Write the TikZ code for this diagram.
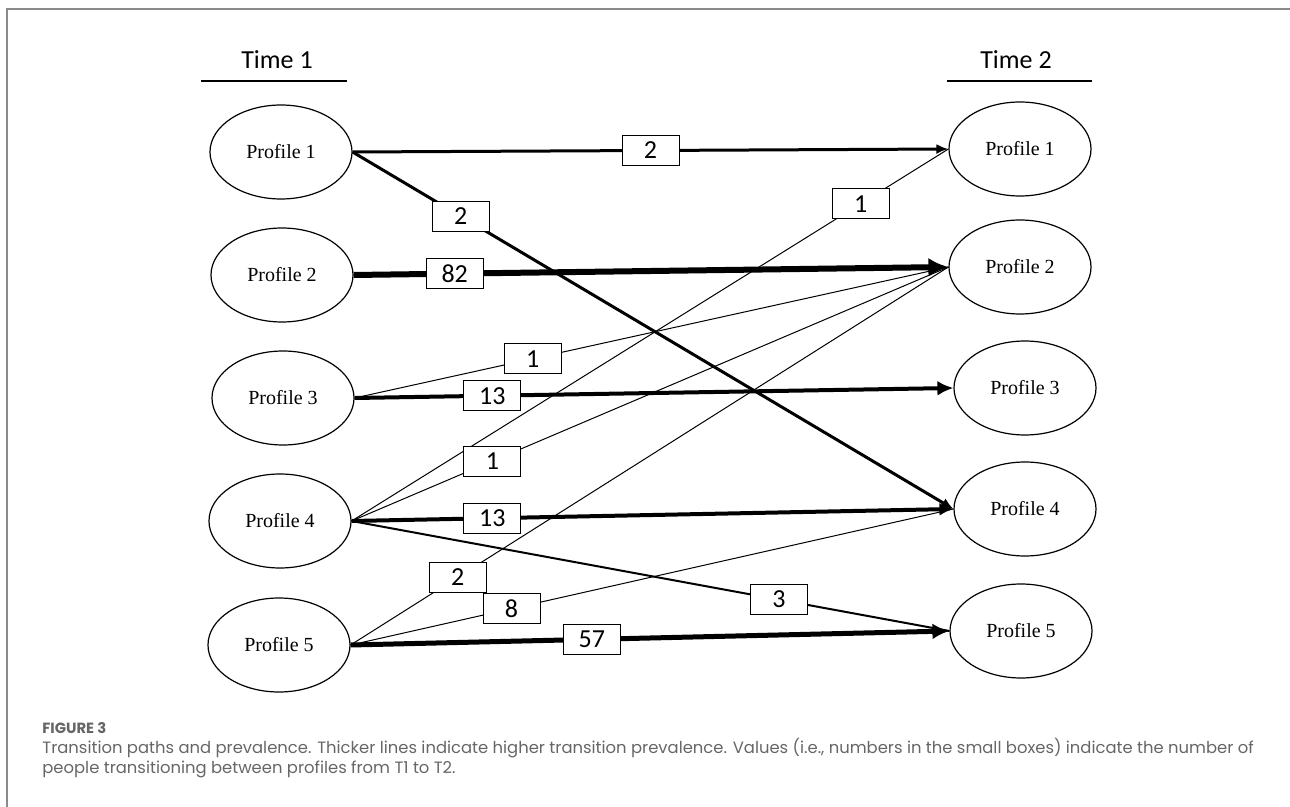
\documentclass[tikz,border=0pt]{standalone}
\usepackage{fontspec}
\setmainfont{Liberation Serif}
\newfontfamily\calfont{Carlito}
\newfontfamily\capfont{Poppins}
\usepackage{tikz}
\usetikzlibrary{arrows.meta,shapes.geometric}

\definecolor{framegray}{HTML}{8A8A8A}
\definecolor{capgray}{HTML}{666666}

\begin{document}
\begin{tikzpicture}[
	x=0.5pt, y=-0.5pt,
	profile/.style={
		ellipse, draw=black, line width=0.6pt,
		minimum width=71pt, minimum height=47pt,
		inner sep=0pt, font=\fontsize{10}{12}\selectfont
	},
	countbox/.style={
		rectangle, draw=black, fill=white, line width=0.5pt,
		minimum width=28.5pt, minimum height=15pt, inner sep=0pt,
		font=\calfont\fontsize{13}{13}\selectfont
	},
	timelbl/.style={font=\calfont\fontsize{13}{15}\selectfont},
	rule/.style={line width=1pt, black},
	thinpath/.style={line width=0.5pt, black},
	captext/.style={anchor=base west, inner sep=0pt, text=capgray}
	]
	\useasboundingbox (0,0) rectangle (1290,807);
	\draw[framegray, line width=0.6pt] (7,807) -- (7,9) -- (1290,9);
	
	\node[timelbl] (t1) at (277,60) {Time 1};
	\node[timelbl] (t2) at (1016,60) {Time 2};
	\draw[rule] (201,81) -- (347,81);
	\draw[rule] (947,81) -- (1092,81);
	
	\node[profile] (l1) at (281,152) {Profile 1};
	\node[profile] (l2) at (282,275) {Profile 2};
	\node[profile] (l3) at (283,398) {Profile 3};
	\node[profile] (l4) at (280,521) {Profile 4};
	\node[profile] (l5) at (279,645) {Profile 5};
	
	\node[profile] (r1) at (1020,149) {Profile 1};
	\node[profile] (r2) at (1020,267) {Profile 2};
	\node[profile] (r3) at (1025,388) {Profile 3};
	\node[profile] (r4) at (1025,509) {Profile 4};
	\node[profile] (r5) at (1021,631) {Profile 5};
	
	\draw[thinpath] (l3.east) -- node[countbox, pos=0.30] {1} (r2.west);
	\draw[thinpath] (l4.east) -- node[countbox, pos=0.853] {1} (r1.west);
	\draw[thinpath] (l4.east) -- node[countbox, pos=0.236] {1} (r2.west);
	\draw[thinpath] (l5.east) -- node[countbox, pos=0.179] {2} (r2.west);
	\draw[thinpath] (l5.east) -- node[countbox, pos=0.267] {8} (r4.west);
	\draw[line width=1pt] (l4.east) -- node[countbox, pos=0.715] {3} (r5.west);
	
	\draw[line width=1.5pt, -{Latex[length=6pt,width=5pt]}] (l1.east) -- node[countbox, pos=0.50] {2} (r1.west);
	\draw[line width=1.5pt, -{Latex[length=6pt,width=5pt]}] (l1.east) -- node[countbox, pos=0.18] {2} (r4.west);
	\draw[line width=3pt, -{Latex[length=10pt,width=9.5pt]}] (l2.east) -- node[countbox, pos=0.17] {82} (r2.west);
	\draw[line width=2pt, -{Latex[length=8pt,width=7.5pt]}] (l3.east) -- node[countbox, pos=0.23] {13} (r3.west);
	\draw[line width=2pt, -{Latex[length=7pt,width=6.5pt]}] (l4.east) -- node[countbox, pos=0.234] {13} (r4.west);
	\draw[line width=2.5pt, -{Latex[length=8.5pt,width=8pt]}] (l5.east) -- node[countbox, pos=0.403] {57} (r5.west);
	
	\node[captext, font=\capfont\bfseries\fontsize{7.4}{8}\selectfont] (fig) at (42,733) {FIGURE 3};
	\node[captext, font=\capfont\fontsize{8.2}{9.5}\selectfont] (cap1) at (42,753) {Transition paths and prevalence. Thicker lines indicate higher transition prevalence. Values (i.e., numbers in the small boxes) indicate the number of};
	\node[captext, font=\capfont\fontsize{8.2}{9.5}\selectfont] (cap2) at (42,773) {people transitioning between profiles from T1 to T2.};
\end{tikzpicture}
\end{document}
